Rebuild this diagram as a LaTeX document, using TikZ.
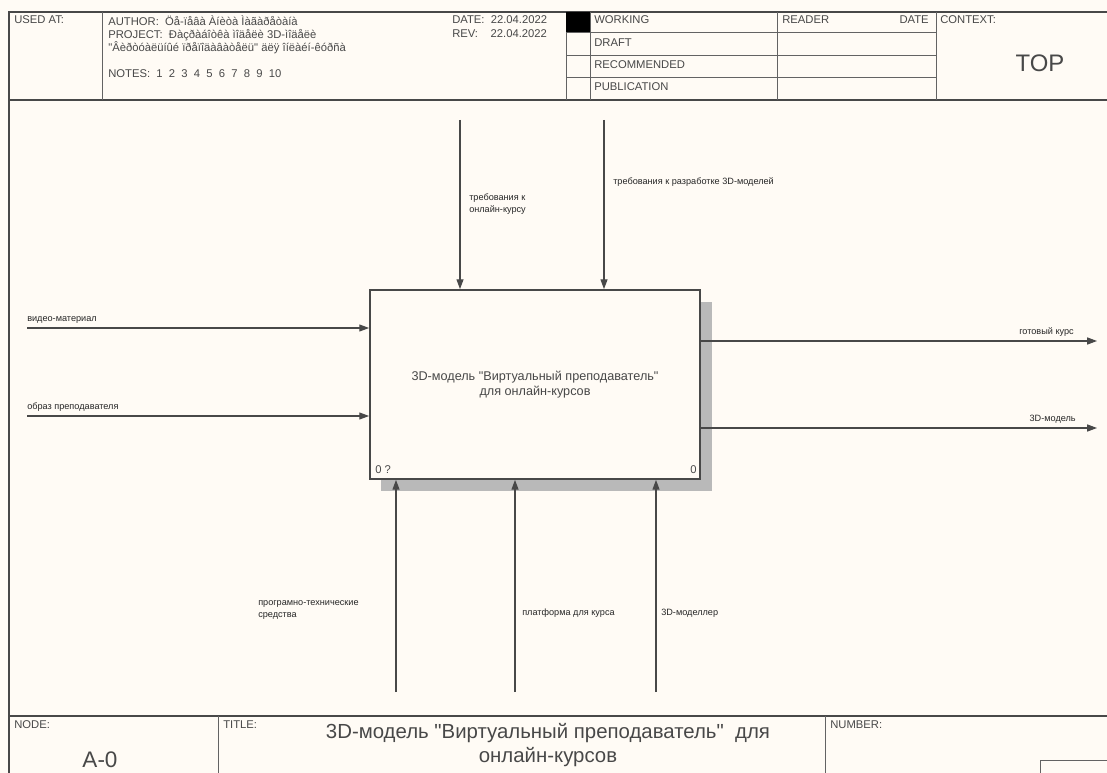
\documentclass[tikz,border=0pt]{standalone}
\usepackage{fontspec}
\setmainfont{Liberation Sans}[Ligatures=TeXOff]
\usetikzlibrary{arrows.meta}
\definecolor{paper}{RGB}{255,251,245}
\definecolor{ink}{RGB}{72,72,72}
\newcommand{\hdrtext}[4]{\node[hdr] (#1) at (#2,#3) {#4};}
\newcommand{\flow}[2]{\draw[flowline] (#1) -- (#2);}

\begin{document}
\begin{tikzpicture}[x=0.025cm,y=-0.025cm,
    hdr/.style={anchor=north west,inner sep=0pt,text=ink,font=\fontsize{8}{9.5}\selectfont},
    lbl/.style={inner sep=0pt,text=black!85,align=left,font=\fontsize{6.5}{8.5}\selectfont},
    frameline/.style={draw=ink,line width=1.1pt},
    thinline/.style={draw=ink!85,line width=0.6pt},
    flowline/.style={draw=ink,line width=0.8pt,-{Triangle[length=7pt,width=5pt]}}]
    \useasboundingbox[fill=paper] (0,0) rectangle (1107,773);
    % frame
    \draw[frameline] (1107,12) -- (9,12) -- (9,773);
    \draw[frameline] (9,100) -- (1107,100);
    \draw[frameline] (9,716) -- (1107,716);
    \foreach \x in {102,566,590,777,936} \draw[thinline] (\x,12) -- (\x,100);
    \foreach \y in {32,55,77} \draw[thinline] (566,\y) -- (936,\y);
    \fill[black] (566,12) rectangle (590,32);
    \draw[thinline] (218,716) -- (218,773);
    \draw[thinline] (825,716) -- (825,773);
    \draw[thinline] (1107,760) -- (1040,760) -- (1040,773);
    % header
    \hdrtext{usedat}{14}{15}{USED AT:}
    \hdrtext{author}{108}{15}{AUTHOR:~~Öå-ïåâà Àíèòà Ìàãàðåòàíà}
    \hdrtext{project}{108}{29}{PROJECT:~~Ðàçðàáîòêà ìîäåëè 3D-ìîäåëè}
    \hdrtext{project2}{108}{41}{"Âèðòóàëüíûé ïðåïîäàâàòåëü" äëÿ îíëàéí-êóðñà}
    \hdrtext{notes}{108}{69}{NOTES:~~1~~2~~3~~4~~5~~6~~7~~8~~9~~10}
    \hdrtext{date}{452}{15}{DATE:~~22.04.2022}
    \hdrtext{rev}{452}{29}{REV:~~~~22.04.2022}
    \hdrtext{working}{594}{15}{WORKING}
    \hdrtext{draft}{594}{38}{DRAFT}
    \hdrtext{recommended}{594}{60}{RECOMMENDED}
    \hdrtext{publication}{594}{82}{PUBLICATION}
    \hdrtext{reader}{782}{15}{READER}
    \node[hdr,anchor=north east] (readerdate) at (929,15) {DATE};
    \hdrtext{context}{940}{15}{CONTEXT:}
    \node[text=ink,font=\fontsize{17}{20}\selectfont] (top) at (1040,63) {TOP};
    % footer
    \hdrtext{nodelbl}{14}{720}{NODE:}
    \hdrtext{titlelbl}{223}{720}{TITLE:}
    \hdrtext{numberlbl}{830}{720}{NUMBER:}
    \node[text=ink,font=\fontsize{16}{18}\selectfont] (nodenum) at (100,760) {A-0};
    \node[text=ink,align=center,font=\fontsize{14.5}{17.5}\selectfont] (title) at (548,745)
        {3D-модель "Виртуальный преподаватель"~~для\\онлайн-курсов};
    % activity
    \fill[gray!55] (381,302) rectangle (712,491);
    \node[draw=ink,line width=1.2pt,fill=paper,minimum width=8.25cm,minimum height=4.725cm,
          align=center,text=ink,font=\fontsize{9}{10.5}\selectfont] (act) at (535,384.5)
        {3D-модель "Виртуальный преподаватель"\\для онлайн-курсов};
    \node[anchor=south west,inner sep=0pt,text=ink,font=\fontsize{8}{9}\selectfont] (actref) at (375,474) {0 ?};
    \node[anchor=south east,inner sep=0pt,text=ink,font=\fontsize{8}{9}\selectfont] (actcost) at (697,474) {0};
    % controls
    \coordinate (ctl1) at (460,120); \coordinate (ctl2) at (604,120);
    \flow{ctl1}{ctl1 |- act.north}\flow{ctl2}{ctl2 |- act.north}
    \node[lbl,anchor=north west] (ctl1lbl) at (469,194) {требования к\\онлайн-курсу};
    \node[lbl,anchor=west] (ctl2lbl) at (613,182) {требования к разработке 3D-моделей};
    % inputs
    \coordinate (in1) at (27,328); \coordinate (in2) at (27,416);
    \flow{in1}{in1 -| act.west}\flow{in2}{in2 -| act.west}
    \node[lbl,anchor=south west] (in1lbl) at (27,324) {видео-материал};
    \node[lbl,anchor=south west] (in2lbl) at (27,412) {образ преподавателя};
    % outputs
    \coordinate (out1) at (1097,341); \coordinate (out2) at (1097,428);
    \flow{out1 -| act.east}{out1}\flow{out2 -| act.east}{out2}
    \node[lbl,anchor=south east] (out1lbl) at (1074,337) {готовый курс};
    \node[lbl,anchor=south east] (out2lbl) at (1076,424) {3D-модель};
    % mechanisms
    \coordinate (mec1) at (396,692); \coordinate (mec2) at (515,692); \coordinate (mec3) at (656,692);
    \flow{mec1}{mec1 |- act.south}\flow{mec2}{mec2 |- act.south}\flow{mec3}{mec3 |- act.south}
    \node[lbl,anchor=north west] (mec1lbl) at (258,600) {програмно-технические\\средства};
    \node[lbl,anchor=west] (mec2lbl) at (522,613) {платформа для курса};
    \node[lbl,anchor=west] (mec3lbl) at (661,613) {3D-моделлер};
\end{tikzpicture}
\end{document}
